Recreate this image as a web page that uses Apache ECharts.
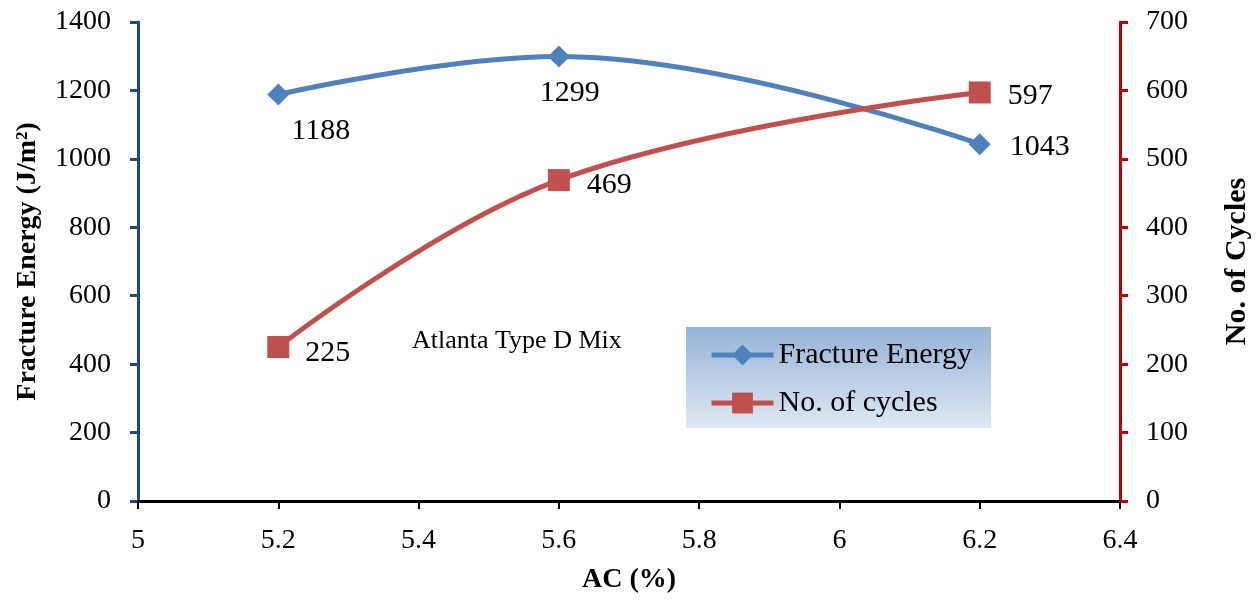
<!DOCTYPE html>
<html><head><meta charset="utf-8">
<script src="https://cdn.jsdelivr.net/npm/echarts@6/dist/echarts.min.js"></script>
<style>html,body{margin:0;padding:0;background:#fff}#c{width:1260px;height:600px}</style>
</head><body><div id="c"></div>
<script>
const acValues = [5.2, 5.6, 6.2];
const fractureEnergy = [1188, 1299, 1043];
const cycles = [225, 469, 597];
const seriesNames = ['Fracture Energy', 'No. of cycles'];
const chartNote = 'Atlanta Type D Mix';

const FONT = '"Liberation Serif", "Times New Roman", serif';
const chart = echarts.init(document.getElementById('c'));

const feLabel = [
  {position: 'right', distance: 2, offset: [0, 37]},
  {position: 'bottom', distance: 6, offset: [11, 5]},
  {position: 'right', distance: 19, offset: [0, 3]}
];
const cyLabel = [
  {position: 'right', distance: 16, offset: [0, 6]},
  {position: 'right', distance: 17, offset: [0, 5]},
  {position: 'right', distance: 17, offset: [0, 4]}
];

chart.setOption({
  animation: false,
  textStyle: {fontFamily: FONT},
  grid: {left: 138, right: 140, top: 22, bottom: 99, containLabel: false, outerBoundsMode: 'none'},
  graphic: [
    {type: 'rect', left: 686, top: 327, shape: {width: 305, height: 101}, z: 0,
     style: {fill: new echarts.graphic.LinearGradient(0, 0, 0, 1, [
       {offset: 0, color: '#95B3D7'}, {offset: 1, color: '#E0E8F4'}])}},
    {type: 'text', x: 412, y: 341, z: 5,
     style: {text: chartNote, font: '26px ' + FONT, fill: '#000', verticalAlign: 'middle'}}
  ],
  legend: {
    left: 704, top: 335, orient: 'vertical', itemGap: 18,
    itemWidth: 62, itemHeight: 26,
    lineStyle: {width: 5},
    textStyle: {fontFamily: FONT, fontSize: 30, color: '#000'},
    data: seriesNames, z: 10
  },
  xAxis: {
    type: 'value', min: 5, max: 6.4, interval: 0.2,
    name: 'AC (%)', nameLocation: 'middle', nameGap: 65,
    nameTextStyle: {fontFamily: FONT, fontSize: 28, fontWeight: 'bold', color: '#000'},
    axisLine: {show: true, onZero: false, lineStyle: {color: '#000', width: 3}},
    axisTick: {show: true, inside: false, length: 8, lineStyle: {color: '#000', width: 2}},
    axisLabel: {fontFamily: FONT, fontSize: 28, color: '#000', margin: 26,
      formatter: v => String(Math.round(v * 10) / 10)},
    splitLine: {show: false}
  },
  yAxis: [
    {type: 'value', min: 0, max: 1400, interval: 200, position: 'left',
     name: 'Fracture Energy (J/m²)', nameLocation: 'middle', nameGap: 96,
     nameTextStyle: {fontFamily: FONT, fontSize: 28, fontWeight: 'bold', color: '#000'},
     axisLine: {show: true, lineStyle: {color: '#1F497D', width: 3}},
     axisTick: {show: true, length: 8, lineStyle: {color: '#1F497D', width: 3}},
     axisLabel: {fontFamily: FONT, fontSize: 28, color: '#000', margin: 27,
       formatter: v => String(v)},
     splitLine: {show: false}},
    {type: 'value', min: 0, max: 700, interval: 100, position: 'right',
     name: 'No. of Cycles', nameLocation: 'middle', nameGap: 102,
     nameTextStyle: {fontFamily: FONT, fontSize: 30, fontWeight: 'bold', color: '#000'},
     axisLine: {show: true, lineStyle: {color: '#C00000', width: 3}},
     axisTick: {show: true, length: 8, lineStyle: {color: '#C00000', width: 3}},
     axisLabel: {fontFamily: FONT, fontSize: 28, color: '#000', margin: 26,
       formatter: v => String(v)},
     splitLine: {show: false}}
  ],
  series: [
    {name: seriesNames[0], type: 'line', yAxisIndex: 0, smooth: 0.4,
     symbol: 'diamond', symbolSize: 22,
     lineStyle: {color: '#4F81BD', width: 5},
     itemStyle: {color: '#4F81BD'},
     data: acValues.map((x, i) => ({value: [x, fractureEnergy[i]],
       label: Object.assign({show: true, fontFamily: FONT, fontSize: 30, color: '#000',
         formatter: p => p.value[1]}, feLabel[i])})),
     z: 3},
    {name: seriesNames[1], type: 'line', yAxisIndex: 1, smooth: 0.4,
     symbol: 'rect', symbolSize: 22,
     lineStyle: {color: '#C0504D', width: 5},
     itemStyle: {color: '#C0504D'},
     data: acValues.map((x, i) => ({value: [x, cycles[i]],
       label: Object.assign({show: true, fontFamily: FONT, fontSize: 30, color: '#000',
         formatter: p => p.value[1]}, cyLabel[i])})),
     z: 3}
  ]
});
</script></body></html>
